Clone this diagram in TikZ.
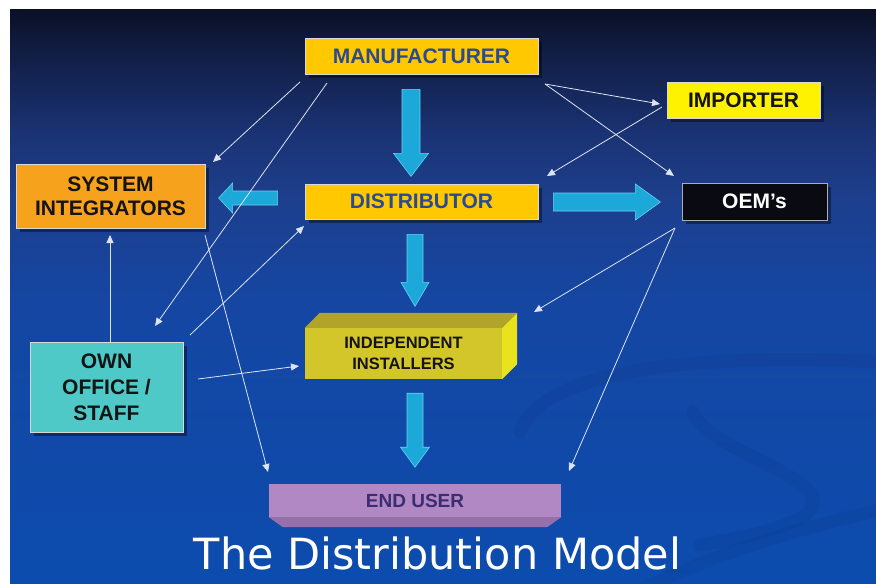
\documentclass[tikz,border=0pt]{standalone}
\usepackage{fontspec}
\setmainfont{Liberation Sans}
\newfontfamily\titlefont{DejaVu Sans}
\usetikzlibrary{calc,shadows,arrows.meta}

% palette
\definecolor{bgA}{HTML}{0B1026}
\definecolor{bgB}{HTML}{121F48}
\definecolor{bgC}{HTML}{1A3272}
\definecolor{bgD}{HTML}{1D3F8E}
\definecolor{bgE}{HTML}{1546A2}
\definecolor{bgF}{HTML}{0C4CAE}
\definecolor{swooshcol}{HTML}{0A2466}
\definecolor{gold}{HTML}{FFC800}
\definecolor{goldtext}{HTML}{2B4B91}
\definecolor{importer}{HTML}{FFF200}
\definecolor{oemfill}{HTML}{0A0A12}
\definecolor{sifill}{HTML}{F6A21C}
\definecolor{ownfill}{HTML}{4FC8C8}
\definecolor{instfront}{HTML}{D3C62B}
\definecolor{insttop}{HTML}{B1A42A}
\definecolor{instside}{HTML}{E9E21C}
\definecolor{endfront}{HTML}{B187C4}
\definecolor{endbottom}{HTML}{9570AA}
\definecolor{endtext}{HTML}{3A2E70}
\definecolor{arrowcyan}{HTML}{1CA9D9}
\definecolor{arrowedge}{HTML}{66D2EE}
\definecolor{linkwhite}{HTML}{DCE4F4}
\definecolor{boxedge}{HTML}{D8D8D8}
\definecolor{darktext}{HTML}{141414}

% slide background, dark navy at the top to royal blue below
\pgfdeclareverticalshading{slidebg}{100bp}{%
  color(0bp)=(bgF); color(25bp)=(bgF); color(49.7bp)=(bgE);
  color(58.4bp)=(bgD); color(64.5bp)=(bgC); color(70.6bp)=(bgB);
  color(75bp)=(bgA); color(100bp)=(bgA)}

% block arrow: #1 start, #2 direction, #3 length, #4 shaft half width,
% #5 head half width, #6 head length
\newcommand{\fatarrow}[6]{%
  \begin{scope}[shift={#1},rotate=#2]
    \draw[fatarrow] (0,{-#4}) -- ({#3-#6},{-#4}) -- ({#3-#6},{-#5}) -- (#3,0)
      -- ({#3-#6},#5) -- ({#3-#6},#4) -- (0,#4) -- cycle;
  \end{scope}}

\begin{document}
\begin{tikzpicture}[x=1pt,y=-1pt,
  box/.style={rectangle, draw=boxedge, line width=0.8pt, inner sep=0pt,
    align=center, font=\fontsize{21}{24}\selectfont\bfseries,
    drop shadow={shadow xshift=4pt, shadow yshift=-4pt, opacity=.4, fill=black}},
  fatarrow/.style={fill=arrowcyan, draw=arrowedge, line width=0.6pt},
  link/.style={draw=linkwhite, line width=0.8pt,
    -{Triangle[length=8pt,width=7pt]}},
  swoosh/.style={draw=swooshcol, line width=13pt, opacity=.09, line cap=round}]

\useasboundingbox (0,0) rectangle (876,584);
\fill[white] (0,0) rectangle (876,584);
\shade[shading=slidebg] (10,9) rectangle (876,584);

% faint decorative curves in the lower right
\begin{scope}
  \clip (10,9) rectangle (876,584);
  \draw[swoosh] (520,432) .. controls (540,372) and (690,352) .. (880,362);
  \draw[swoosh] (693,412) .. controls (705,445) and (795,468) .. (812,495)
    .. controls (825,520) and (760,535) .. (700,545);
  \draw[swoosh] (640,590) .. controls (720,552) and (800,528) .. (880,510);
\end{scope}

% boxes
\node[box, fill=gold, text=goldtext, minimum width=233pt, minimum height=36pt]
  (mfr) at (421.5,56) {MANUFACTURER};
\node[box, fill=gold, text=goldtext, minimum width=233pt, minimum height=35pt]
  (dist) at (421.5,201.5) {DISTRIBUTOR};
\node[box, fill=importer, text=darktext, minimum width=153pt, minimum height=36pt]
  (imp) at (743.5,100) {IMPORTER};
\node[box, fill=oemfill, draw=boxedge!80!black, text=white, minimum width=145pt, minimum height=37pt]
  (oem) at (754.5,201.5) {OEM’s};
\node[box, fill=sifill, text=darktext, minimum width=189pt, minimum height=64pt]
  (si) at (110.5,196) {SYSTEM\\INTEGRATORS};
\node[box, fill=ownfill, text=darktext, minimum width=153pt, minimum height=90pt,
  font=\fontsize{21}{26}\selectfont\bfseries]
  (own) at (106.5,387) {OWN\\OFFICE /\\STAFF};

% independent installers, drawn as a solid block
\node[rectangle, fill=instfront, inner sep=0pt, minimum width=197pt, minimum height=51pt,
  align=center, text=darktext, font=\fontsize{16.5}{21}\selectfont\bfseries]
  (inst) at (403.5,353.5) {INDEPENDENT\\INSTALLERS};
\fill[insttop] (inst.north west) -- ++(15,-15) -- ($(inst.north east)+(15,-15)$)
  -- (inst.north east) -- cycle;
\fill[instside] (inst.north east) -- ++(15,-15) -- ($(inst.south east)+(15,-15)$)
  -- (inst.south east) -- cycle;

% end user, a slab seen slightly from below
\node[rectangle, fill=endfront, inner sep=0pt, minimum width=292pt, minimum height=33pt,
  text=endtext, font=\fontsize{19}{22}\selectfont\bfseries]
  (end) at (415,500.5) {END USER};
\fill[endbottom] (end.south west) -- ++(14,10) -- ($(end.south east)+(-14,10)$)
  -- (end.south east) -- cycle;

% main flow
\fatarrow{($(mfr.south)+(-10.5,15)$)}{-90}{87}{9}{17.5}{23}
\fatarrow{($(dist.west)+(-27,-3.5)$)}{180}{59}{7}{15}{14}
\fatarrow{($(dist.east)+(15,0.5)$)}{0}{107}{9}{18}{25}
\fatarrow{($(dist.south)+(-6.5,15)$)}{-90}{72}{8}{14}{24}
\fatarrow{($(inst.south)+(11.5,14)$)}{-90}{74}{8}{14.5}{20}

% free ends of the thin channel links
\coordinate (mfrL1) at (300,82);
\coordinate (mfrL2) at (327,83);
\coordinate (mfrR) at (545,84);
\coordinate (siIn) at (213,162);
\coordinate (siOut) at (205,235);
\coordinate (siBelow) at (110,235);
\coordinate (ownTop) at (110,342);
\coordinate (ownIn) at (155,326);
\coordinate (ownOut) at (190,335);
\coordinate (ownRight) at (198,379);
\coordinate (distIn) at (304,226);
\coordinate (distInR) at (547,176);
\coordinate (impIn) at (660,104);
\coordinate (impOut) at (662,107);
\coordinate (oemIn) at (674,176);
\coordinate (oemOut) at (675,228);
\coordinate (instIn) at (299,366);
\coordinate (instInR) at (534,312);
\coordinate (endInL) at (268,472);
\coordinate (endInR) at (569,471);

% thin channel links
\draw[link] (mfrL1) -- (siIn);
\draw[link] (mfrL2) -- (ownIn);
\draw[link] (ownOut) -- (distIn);
\draw[link] (siOut) -- (endInL);
\draw[link] (ownTop) -- (siBelow);
\draw[link] (ownRight) -- (instIn);
\draw[link] (mfrR) -- (impIn);
\draw[link] (mfrR) -- (oemIn);
\draw[link] (impOut) -- (distInR);
\draw[link] (oemOut) -- (instInR);
\draw[link] (oemOut) -- (endInR);

% slide title
\node[anchor=base, text=white, inner sep=0pt, font=\titlefont\fontsize{43}{48}\selectfont]
  (title) at (437.5,569) {The Distribution Model};
\end{tikzpicture}
\end{document}
